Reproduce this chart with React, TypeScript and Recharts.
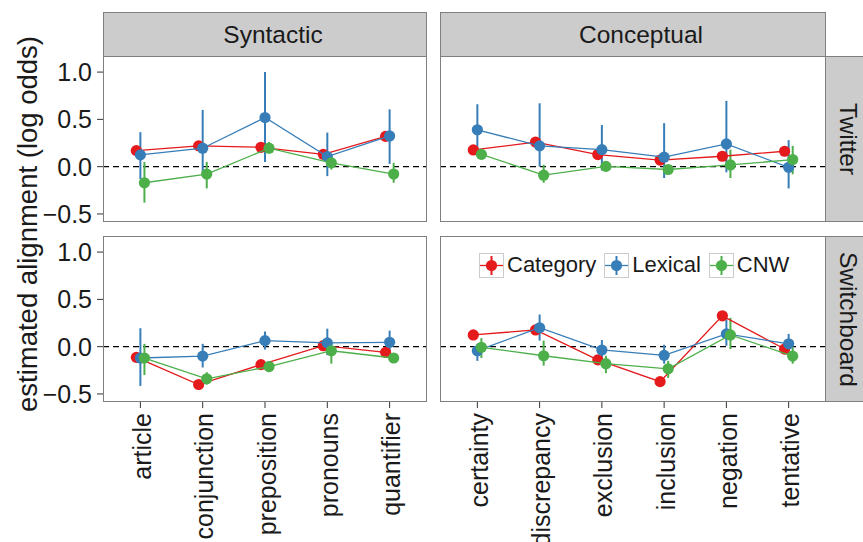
import React from 'react';
import { ComposedChart, Scatter, XAxis, YAxis, ErrorBar, ReferenceLine } from 'recharts';

// ---------- categories ----------
const syntacticCats = ['article', 'conjunction', 'preposition', 'pronouns', 'quantifier'];
const conceptualCats = ['certainty', 'discrepancy', 'exclusion', 'inclusion', 'negation', 'tentative'];
const seriesNames = ['Category', 'Lexical', 'CNW'];
const yTicks = [-0.5, 0, 0.5, 1.0];

// ---------- Twitter / Syntactic ----------
const twSynCategory = [0.17, 0.22, 0.205, 0.13, 0.32];
const twSynCategoryLo = [0.13, 0.18, 0.165, 0.09, 0.28];
const twSynCategoryHi = [0.21, 0.26, 0.245, 0.17, 0.36];
const twSynLexical = [0.125, 0.195, 0.52, 0.106, 0.325];
const twSynLexicalLo = [-0.13, -0.08, 0.05, -0.1, 0.03];
const twSynLexicalHi = [0.365, 0.6, 1.0, 0.36, 0.606];
const twSynCNW = [-0.17, -0.078, 0.195, 0.04, -0.078];
const twSynCNWLo = [-0.38, -0.23, 0.14, -0.03, -0.17];
const twSynCNWHi = [0.05, 0.05, 0.26, 0.09, 0.04];

// ---------- Twitter / Conceptual ----------
const twConCategory = [0.177, 0.26, 0.128, 0.07, 0.11, 0.163];
const twConCategoryLo = [0.137, 0.22, 0.088, 0.03, 0.07, 0.123];
const twConCategoryHi = [0.217, 0.3, 0.168, 0.11, 0.15, 0.203];
const twConLexical = [0.39, 0.22, 0.18, 0.1, 0.24, -0.007];
const twConLexicalLo = [0.15, 0.0, -0.04, -0.12, -0.06, -0.23];
const twConLexicalHi = [0.66, 0.67, 0.44, 0.46, 0.695, 0.28];
const twConCNW = [0.13, -0.09, 0.003, -0.03, 0.018, 0.075];
const twConCNWLo = [0.08, -0.17, -0.03, -0.08, -0.12, -0.08];
const twConCNWHi = [0.18, 0.02, 0.04, 0.02, 0.18, 0.22];

// ---------- Switchboard / Syntactic ----------
const sbSynCategory = [-0.113, -0.4, -0.19, 0.01, -0.06];
const sbSynCategoryLo = [-0.153, -0.44, -0.23, -0.03, -0.1];
const sbSynCategoryHi = [-0.073, -0.36, -0.15, 0.05, -0.02];
const sbSynLexical = [-0.12, -0.1, 0.064, 0.04, 0.046];
const sbSynLexicalLo = [-0.415, -0.22, -0.03, -0.09, -0.07];
const sbSynLexicalHi = [0.195, 0.03, 0.16, 0.19, 0.17];
const sbSynCNW = [-0.12, -0.34, -0.21, -0.043, -0.12];
const sbSynCNWLo = [-0.3, -0.4, -0.25, -0.18, -0.15];
const sbSynCNWHi = [0.03, -0.27, -0.17, 0.03, -0.09];

// ---------- Switchboard / Conceptual ----------
const sbConCategory = [0.124, 0.177, -0.14, -0.37, 0.326, -0.025];
const sbConCategoryLo = [0.084, 0.137, -0.18, -0.41, 0.286, -0.065];
const sbConCategoryHi = [0.164, 0.217, -0.1, -0.33, 0.366, 0.015];
const sbConLexical = [-0.043, 0.2, -0.035, -0.092, 0.135, 0.03];
const sbConLexicalLo = [-0.15, 0.064, -0.12, -0.18, 0.01, -0.08];
const sbConLexicalHi = [0.03, 0.34, 0.07, 0.02, 0.29, 0.135];
const sbConCNW = [-0.007, -0.096, -0.18, -0.234, 0.124, -0.1];
const sbConCNWLo = [-0.12, -0.2, -0.28, -0.33, -0.025, -0.18];
const sbConCNWHi = [0.09, 0.064, -0.096, -0.15, 0.305, -0.007];

const COLORS: Record<string, string> = { Category: '#E41A1C', Lexical: '#377EB8', CNW: '#4DAF4A' };
const DODGE: Record<string, number> = { Category: -0.065, Lexical: 0, CNW: 0.065 };
const FONT = '"Liberation Sans", Arial, Helvetica, sans-serif';
const TEXT = '#1A1A1A';
const BORDER = '#7F7F7F';
const Y_DOMAIN: [number, number] = [-0.585, 1.17];

type Triple = [number[], number[], number[]];

function buildSeries(name: string, t: Triple) {
  const [v, lo, hi] = t;
  return v.map((val, i) => ({ x: i + DODGE[name], y: val, err: [val - lo[i], hi[i] - val] }));
}

const fmt = (v: number) => (v < 0 ? '\u2212' + Math.abs(v).toFixed(1) : v.toFixed(1));

const PANEL_W_SYN = 324;
const PANEL_W_CON = 386;
const PANEL_H = 166;
const Y_AXIS_W = 90;
const X_AXIS_H = 140;
const TOP_PAD = 12;

interface PanelProps {
  cats: string[];
  series: Record<string, Triple>;
  left: number;
  top: number;
  width: number;
  showY: boolean;
  showX: boolean;
}

function Panel({ cats, series, left, top, width, showY, showX }: PanelProps) {
  const chartW = width + (showY ? Y_AXIS_W : 0);
  const bottomPad = showX ? 0 : TOP_PAD;
  const chartH = PANEL_H + (showX ? X_AXIS_H : 0) + bottomPad;
  const ticks = cats.map((_, i) => i);
  const XTick = (p: any) => (
    <g transform={`translate(${p.x},${p.y})`}>
      <text transform="rotate(-90)" textAnchor="end" dy="0.42em" fontSize={25} fill={TEXT} fontFamily={FONT}>
        {cats[p.payload.value]}
      </text>
    </g>
  );
  return (
    <div style={{ position: 'absolute', left: left - (showY ? Y_AXIS_W : 0), top }}>
      <ComposedChart width={chartW} height={chartH} margin={{ top: 0, right: 0, bottom: bottomPad, left: 0 }}>
        <XAxis
          type="number"
          dataKey="x"
          domain={[-0.6, cats.length - 0.4]}
          allowDataOverflow
          ticks={ticks}
          interval={0}
          hide={!showX}
          height={X_AXIS_H}
          axisLine={false}
          tickSize={6}
          tickMargin={5}
          tickLine={{ stroke: '#333333' }}
          tick={XTick}
        />
        <YAxis
          type="number"
          dataKey="y"
          domain={Y_DOMAIN}
          allowDataOverflow
          ticks={yTicks}
          interval={0}
          hide={!showY}
          width={Y_AXIS_W}
          axisLine={false}
          tickSize={6}
          tickMargin={5}
          tickLine={{ stroke: '#333333' }}
          tickFormatter={fmt}
          tick={{ fill: TEXT, fontSize: 25, fontFamily: FONT }}
        />
        <ReferenceLine y={0} stroke="#000000" strokeWidth={1.3} strokeDasharray="6 4" />
        {seriesNames.map((name) => {
          const color = COLORS[name];
          return (
            <Scatter
              key={name}
              name={name}
              data={buildSeries(name, series[name])}
              fill={color}
              stroke={color}
              line={{ stroke: color, strokeWidth: 1.3 }}
              isAnimationActive={false}
              shape={(p: any) => <circle cx={p.cx} cy={p.cy} r={5.6} fill={color} />}
            >
              <ErrorBar dataKey="err" direction="y" width={0} stroke={color} strokeWidth={2} />
            </Scatter>
          );
        })}
      </ComposedChart>
      <div
        style={{
          position: 'absolute',
          left: showY ? Y_AXIS_W : 0,
          top: 0,
          width,
          height: PANEL_H,
          border: `1px solid ${BORDER}`,
          boxSizing: 'border-box',
          pointerEvents: 'none',
        }}
      />
    </div>
  );
}

function Strip({ label, left, top, width, height, vertical }: any) {
  return (
    <div
      style={{
        position: 'absolute',
        left,
        top,
        width,
        height,
        background: '#CCCCCC',
        border: `1px solid ${BORDER}`,
        boxSizing: 'border-box',
        display: 'flex',
        alignItems: 'center',
        justifyContent: 'center',
        fontSize: 24.5,
        color: TEXT,
        fontFamily: FONT,
        paddingLeft: vertical ? 0 : 16,
      }}
    >
      <span style={vertical ? { writingMode: 'vertical-rl' } : {}}>{label}</span>
    </div>
  );
}

function LegendKey({ color }: { color: string }) {
  return (
    <svg width={25} height={25} style={{ display: 'block' }}>
      <rect x={0.5} y={0.5} width={24} height={24} fill="#FFFFFF" stroke="#CCCCCC" strokeWidth={1} />
      <line x1={1} y1={12.5} x2={24} y2={12.5} stroke={color} strokeWidth={1.3} />
      <line x1={12.5} y1={3} x2={12.5} y2={22} stroke={color} strokeWidth={2} />
      <circle cx={12.5} cy={12.5} r={5.6} fill={color} />
    </svg>
  );
}

export default function App() {
  const rowTop = [56, 236];
  const colLeft = [103, 440];
  return (
    <div
      style={{
        position: 'absolute',
        left: 0,
        top: 0,
        width: 863,
        height: 542,
        overflow: 'hidden',
        background: '#FFFFFF',
        fontFamily: FONT,
      }}
    >
      <Panel
        cats={syntacticCats}
        series={{
          Category: [twSynCategory, twSynCategoryLo, twSynCategoryHi],
          Lexical: [twSynLexical, twSynLexicalLo, twSynLexicalHi],
          CNW: [twSynCNW, twSynCNWLo, twSynCNWHi],
        }}
        left={colLeft[0]}
        top={rowTop[0]}
        width={PANEL_W_SYN}
        showY
        showX={false}
      />
      <Panel
        cats={conceptualCats}
        series={{
          Category: [twConCategory, twConCategoryLo, twConCategoryHi],
          Lexical: [twConLexical, twConLexicalLo, twConLexicalHi],
          CNW: [twConCNW, twConCNWLo, twConCNWHi],
        }}
        left={colLeft[1]}
        top={rowTop[0]}
        width={PANEL_W_CON}
        showY={false}
        showX={false}
      />
      <Panel
        cats={syntacticCats}
        series={{
          Category: [sbSynCategory, sbSynCategoryLo, sbSynCategoryHi],
          Lexical: [sbSynLexical, sbSynLexicalLo, sbSynLexicalHi],
          CNW: [sbSynCNW, sbSynCNWLo, sbSynCNWHi],
        }}
        left={colLeft[0]}
        top={rowTop[1]}
        width={PANEL_W_SYN}
        showY
        showX
      />
      <Panel
        cats={conceptualCats}
        series={{
          Category: [sbConCategory, sbConCategoryLo, sbConCategoryHi],
          Lexical: [sbConLexical, sbConLexicalLo, sbConLexicalHi],
          CNW: [sbConCNW, sbConCNWLo, sbConCNWHi],
        }}
        left={colLeft[1]}
        top={rowTop[1]}
        width={PANEL_W_CON}
        showY={false}
        showX
      />

      <Strip label="Syntactic" left={colLeft[0]} top={12} width={PANEL_W_SYN} height={45} />
      <Strip label="Conceptual" left={colLeft[1]} top={12} width={PANEL_W_CON} height={45} />
      <Strip label="Twitter" left={825} top={rowTop[0]} width={45} height={PANEL_H} vertical />
      <Strip label="Switchboard" left={825} top={rowTop[1]} width={45} height={PANEL_H} vertical />

      <div
        style={{
          position: 'absolute',
          left: 479,
          top: 252,
          display: 'flex',
          alignItems: 'center',
          fontSize: 22,
          color: TEXT,
          fontFamily: FONT,
        }}
      >
        {seriesNames.map((name) => (
          <div key={name} style={{ display: 'flex', alignItems: 'center', marginRight: 8 }}>
            <LegendKey color={COLORS[name]} />
            <span style={{ marginLeft: 3 }}>{name}</span>
          </div>
        ))}
      </div>

      <div
        style={{
          position: 'absolute',
          left: 28,
          top: 224,
          transform: 'translate(-50%, -50%) rotate(-90deg)',
          whiteSpace: 'nowrap',
          fontSize: 27.5,
          color: TEXT,
          fontFamily: FONT,
        }}
      >
        estimated alignment (log odds)
      </div>
    </div>
  );
}
